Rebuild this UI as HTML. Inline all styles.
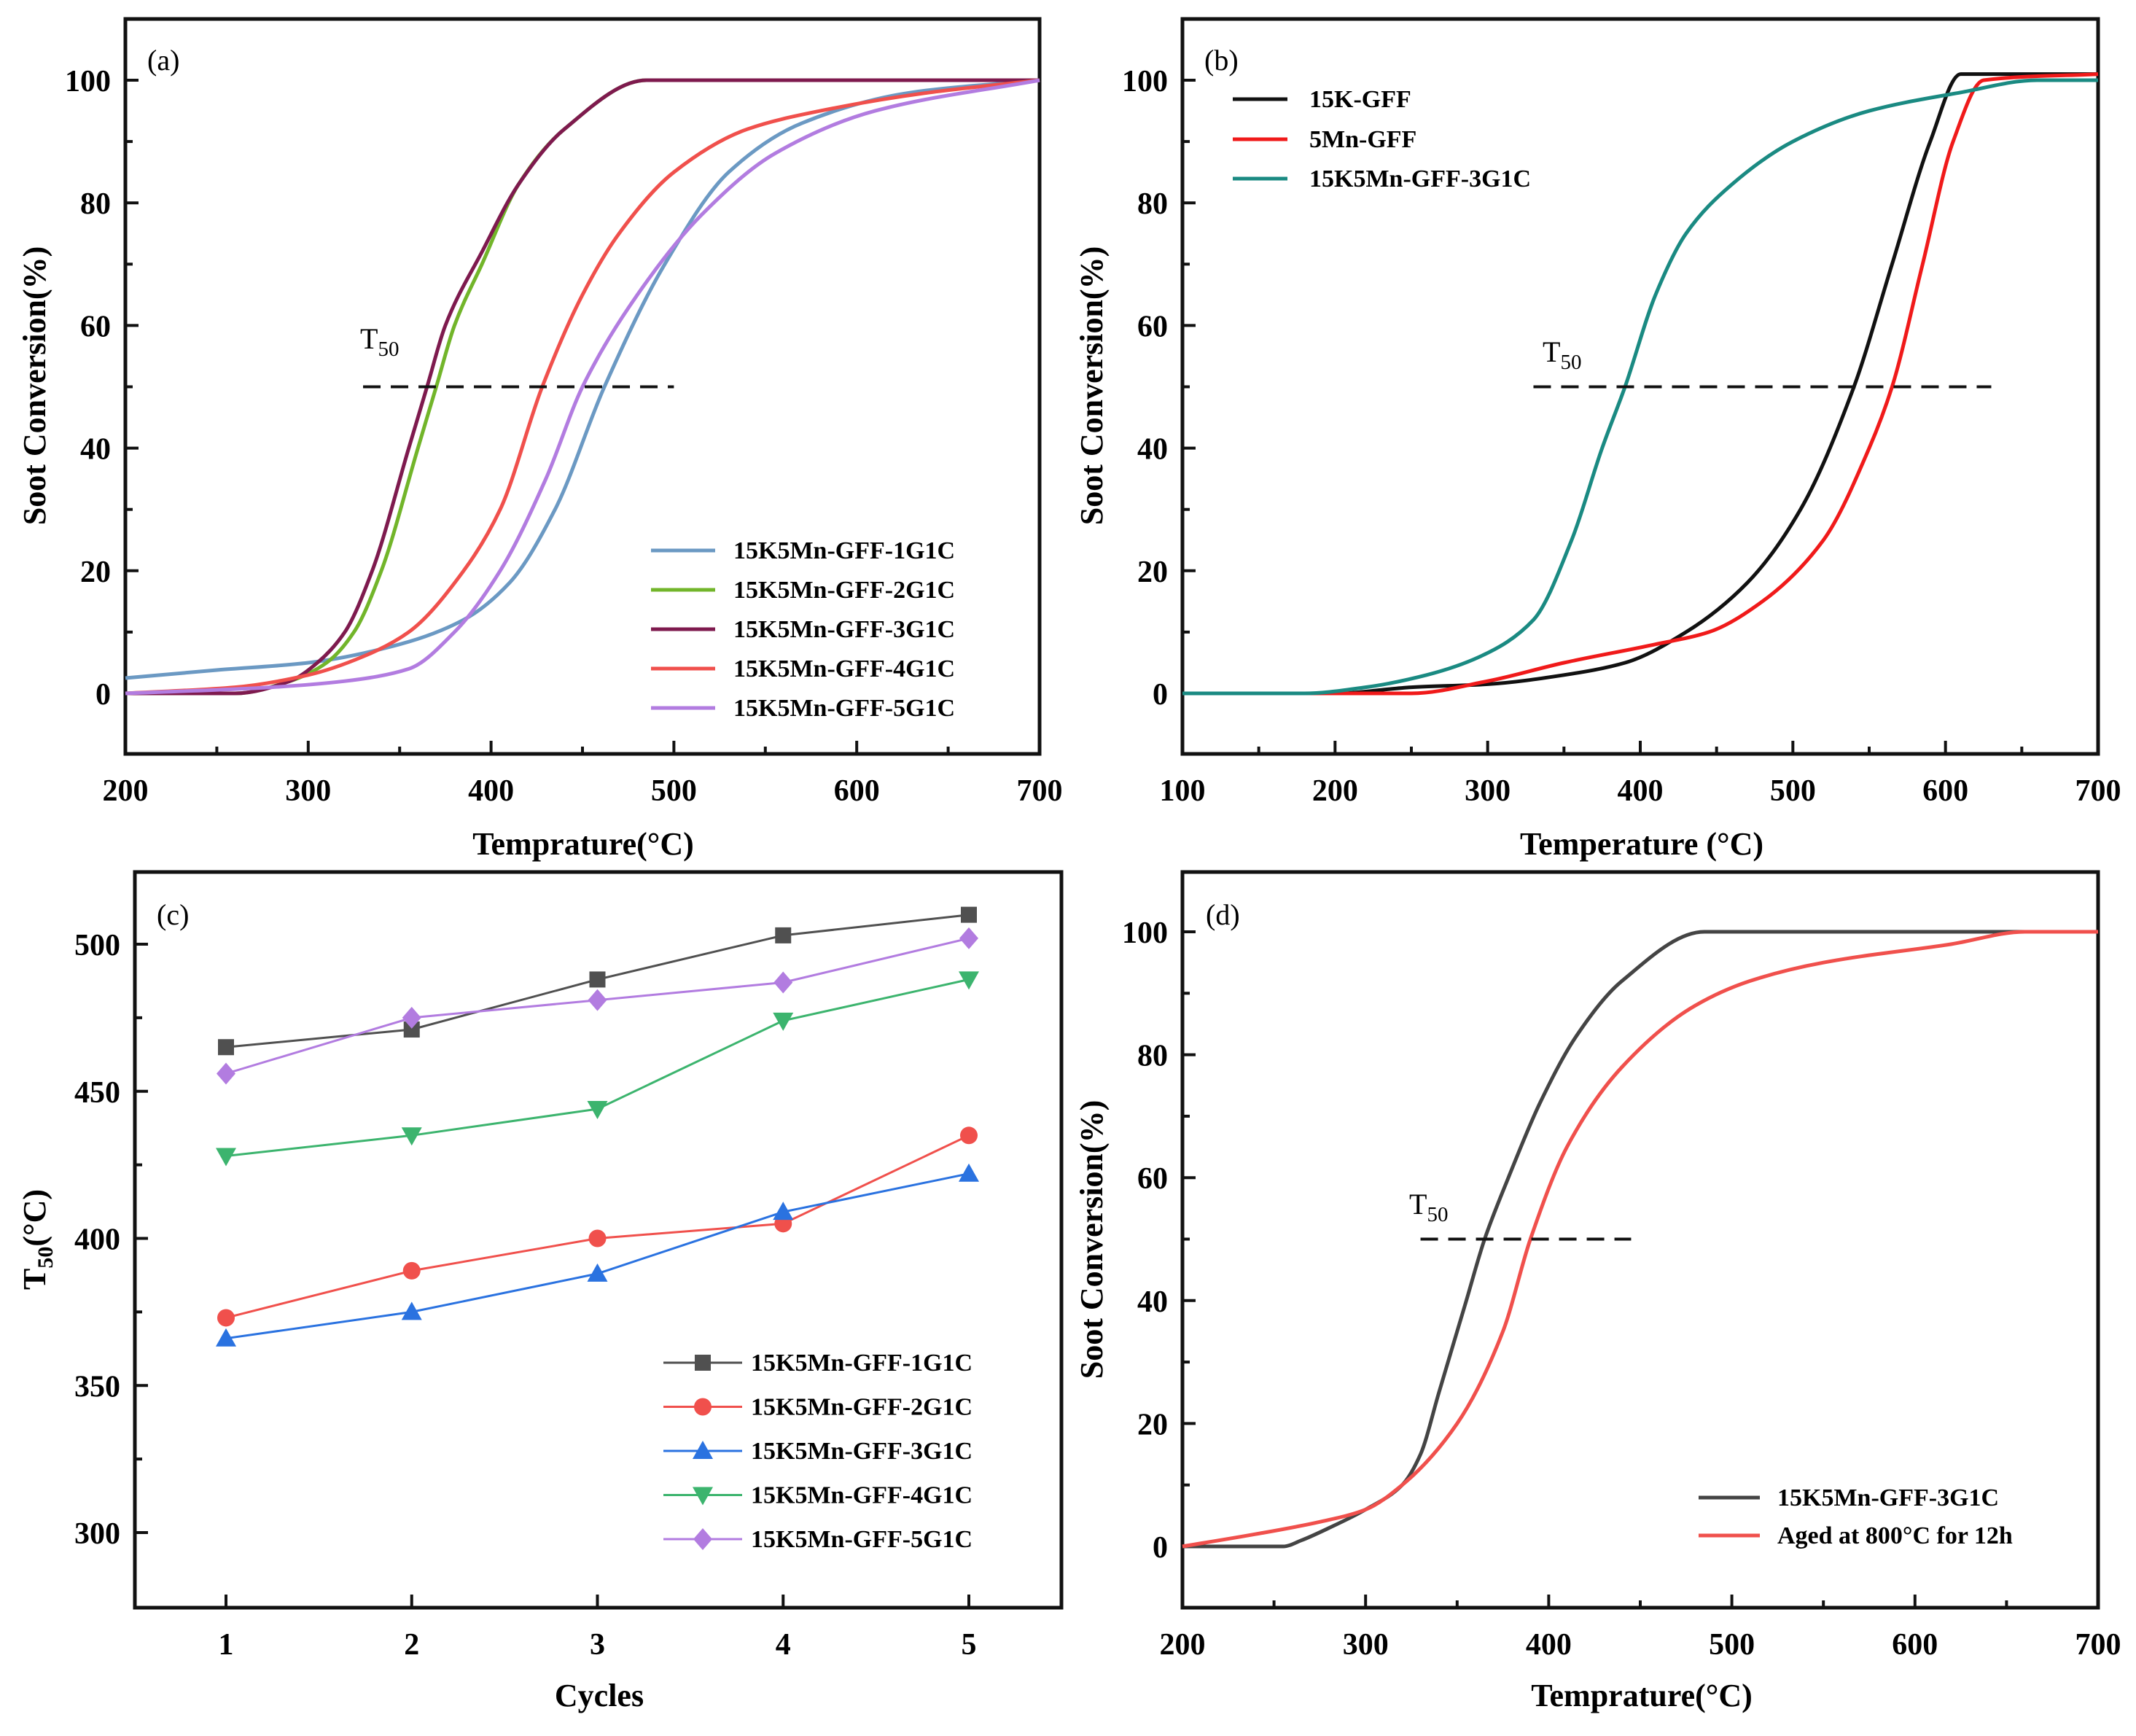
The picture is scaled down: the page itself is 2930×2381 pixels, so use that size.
<!DOCTYPE html>
<html><head><meta charset="utf-8">
<style>
html,body{margin:0;padding:0;background:#fff;}
svg{display:block;font-family:"Liberation Serif",serif;}
.tk{font-size:42px;font-weight:bold;}
.tt{font-size:44px;font-weight:bold;}
.lg{font-size:34px;font-weight:bold;}
</style></head>
<body>
<svg id="fig" width="2930" height="2381" viewBox="0 0 2930 2381" xmlns="http://www.w3.org/2000/svg"></svg>
<script>
// ---- Panel (a) data ----
const aT1 = [200,250,300,350,385,410,435,462,495,530,570,630,700];
const aY1 = [2.5,3.8,5,8,12,18,30,50,70,85,93,98,100];
const aT2 = [200,260,290,310,325,340,360,370,380,395,415,440,485,700];
const aY2 = [0,0,2,5,10,20,40,50,60,70,83,92,100,100];
const aT3 = [200,260,290,305,320,335,355,365,375,395,415,440,485,700];
const aY3 = [0,0,2,5,10,20,40,50,60,72,83,92,100,100];
const aT4 = [200,260,300,330,355,385,405,428,450,470,500,540,580,640,700];
const aY4 = [0,1,3,6,10,20,30,50,65,75,85,92,95,98,100];
const aT5 = [200,280,320,355,380,405,430,450,480,515,555,610,700];
const aY5 = [0,1,2,4,10,20,35,50,65,78,88,95,100];
// ---- Panel (b) data ----
const bT1 = [100,200,250,300,350,390,430,470,505,540,565,590,610,700];
const bY1 = [0,0,1,1.5,3,5,10,18,30,50,70,90,101,101];
const bT2 = [100,250,300,350,410,445,480,520,550,565,585,605,625,700];
const bY2 = [0,0,2,5,8,10,15,25,40,50,70,90,100,101];
const bT3 = [100,180,220,260,295,330,355,375,390,410,430,460,500,550,610,660,700];
const bY3 = [0,0,1,3,6,12,25,40,50,65,75,83,90,95,98,100,100];
// ---- Panel (c) data ----
const cCycles = [1,2,3,4,5];
const c1 = [465,471,488,503,510];
const c2 = [373,389,400,405,435];
const c3 = [366,375,388,409,422];
const c4 = [428,435,444,474,488];
const c5 = [456,475,481,487,502];
// ---- Panel (d) data ----
const dT1 = [200,255,265,280,300,320,330,340,355,365,378,395,415,440,485,700];
const dY1 = [0,0,1,3,6,10,15,25,40,50,60,72,83,92,100,100];
const dT2 = [200,240,275,300,320,350,375,390,410,440,480,510,550,620,660,700];
const dY2 = [0,2,4,6,10,20,35,50,65,78,88,92,95,98,100,100];
// ticks
const convTicks = [0,20,40,60,80,100];
const tTicksA = [200,300,400,500,600,700];
const tTicksB = [100,200,300,400,500,600,700];
const t50Ticks = [300,350,400,450,500];

const svg = document.getElementById('fig');
const NS = 'http://www.w3.org/2000/svg';
function mk(tag, attrs, parent){const e=document.createElementNS(NS,tag);for(const k in attrs)e.setAttribute(k,attrs[k]);(parent||svg).appendChild(e);return e;}
function lin(d0,d1,r0,r1){return v=>r0+(v-d0)/(d1-d0)*(r1-r0);}

function panel(name,box,xs,ys,xTicks,xMinor,yTicks,yMinor){
  const g=mk('g',{});
  
  
  const r=mk('rect',{x:box.l,y:box.t,width:box.r-box.l,height:box.b-box.t,fill:'none',stroke:'#111','stroke-width':5},g);
  
  
  xMinor.forEach(v=>mk('line',{x1:xs(v),x2:xs(v),y1:box.b,y2:box.b-10,stroke:'#111','stroke-width':4},g));
  xTicks.forEach(v=>{
    mk('line',{x1:xs(v),x2:xs(v),y1:box.b,y2:box.b-18,stroke:'#111','stroke-width':4},g);
    const t=mk('text',{x:xs(v),y:box.b+64,'text-anchor':'middle',class:'tk'},g);t.textContent=v;
    
    
  });
  yMinor.forEach(v=>mk('line',{x1:box.l,x2:box.l+10,y1:ys(v),y2:ys(v),stroke:'#111','stroke-width':4},g));
  yTicks.forEach(v=>{
    mk('line',{x1:box.l,x2:box.l+18,y1:ys(v),y2:ys(v),stroke:'#111','stroke-width':4},g);
    const t=mk('text',{x:box.l-20,y:ys(v)+15,'text-anchor':'end',class:'tk'},g);t.textContent=v;
    
    
  });
  return g;
}
// monotone cubic (Fritsch-Carlson) in pixel space; x strictly increasing
function monoPath(P){
  const n=P.length, dx=[], m=[], t=new Array(n);
  for(let i=0;i<n-1;i++){dx.push(P[i+1][0]-P[i][0]);m.push((P[i+1][1]-P[i][1])/dx[i]);}
  t[0]=m[0]; t[n-1]=m[n-2];
  for(let i=1;i<n-1;i++){
    if(m[i-1]*m[i]<=0) t[i]=0;
    else {const w1=2*dx[i]+dx[i-1],w2=dx[i]+2*dx[i-1];t[i]=(w1+w2)/(w1/m[i-1]+w2/m[i]);}
  }
  let d='M'+P[0][0].toFixed(1)+' '+P[0][1].toFixed(1);
  for(let i=0;i<n-1;i++){
    const h=dx[i]/3;
    d+=`C${(P[i][0]+h).toFixed(1)} ${(P[i][1]+t[i]*h).toFixed(1)} ${(P[i+1][0]-h).toFixed(1)} ${(P[i+1][1]-t[i+1]*h).toFixed(1)} ${P[i+1][0].toFixed(1)} ${P[i+1][1].toFixed(1)}`;
  }
  return d;
}
function curve(g,xs,ys,X,Y,color,name,w,straight){
  const P=X.map((x,i)=>[xs(x),ys(Y[i])]);
  const d=straight?P.map((p,i)=>(i?'L':'M')+p[0].toFixed(1)+' '+p[1].toFixed(1)).join(''):monoPath(P);
  const p=mk('path',{d:d,fill:'none',stroke:color,'stroke-width':w||5,'stroke-linejoin':'round'},g);
  
  
}
function text(g,x,y,s,cls,name,extra){const t=mk('text',Object.assign({x:x,y:y,class:cls},extra||{}),g);t.textContent=s;
  
  return t;}
function legendLine(g,x1,x2,y,color,label,tx){
  mk('line',{x1:x1,x2:x2,y1:y,y2:y,stroke:color,'stroke-width':5},g);
  text(g,tx,y+11,label,'lg','legend-entry');
}
function dashT50(g,xs,ys,x0,x1,lx,ly){
  const l=mk('line',{x1:xs(x0),x2:xs(x1),y1:ys(50),y2:ys(50),stroke:'#111','stroke-width':4,'stroke-dasharray':'24 14'},g);
  
  
  const t=mk('text',{x:lx,y:ly,style:'font-size:40px'},g);
  
  
  t.innerHTML='T<tspan dy="10" style="font-size:29px">50</tspan>';
}
function range(a,b,s){const r=[];for(let v=a;v<=b+1e-9;v+=s)r.push(v);return r;}

// ---------- (a) ----------
{
const box={l:172,r:1426,t:26,b:1034};
const xs=lin(200,700,172,1426), ys=lin(0,100,951,110);
const g=panel('panel-a',box,xs,ys,tTicksA,range(250,650,100),convTicks,range(10,90,20));
curve(g,xs,ys,aT1,aY1,'#6b99c3','line-1g1c');
curve(g,xs,ys,aT2,aY2,'#72b52a','line-2g1c');
curve(g,xs,ys,aT3,aY3,'#7e1a4e','line-3g1c');
curve(g,xs,ys,aT4,aY4,'#f0504c','line-4g1c');
curve(g,xs,ys,aT5,aY5,'#b27ce0','line-5g1c');
dashT50(g,xs,ys,330,500,494,478);
text(g,202,96,'(a)','','panel-label',{style:'font-size:40px'});
const labs=['15K5Mn-GFF-1G1C','15K5Mn-GFF-2G1C','15K5Mn-GFF-3G1C','15K5Mn-GFF-4G1C','15K5Mn-GFF-5G1C'];
const cols=['#6b99c3','#72b52a','#7e1a4e','#f0504c','#b27ce0'];
labs.forEach((s,i)=>legendLine(g,893,981,755+i*54,cols[i],s,1006));
text(g,800,1172,'Temprature(°C)','tt','x-axis-title',{'text-anchor':'middle'});
text(g,0,0,'Soot Conversion(%)','tt','y-axis-title',{'text-anchor':'middle',transform:'translate(62,529) rotate(-90)'});
}
// ---------- (b) ----------
{
const box={l:1622,r:2878,t:26,b:1034};
const xs=lin(100,700,1622,2878), ys=lin(0,100,951,110);
const g=panel('panel-b',box,xs,ys,tTicksB,range(150,650,100),convTicks,range(10,90,20));
curve(g,xs,ys,bT1,bY1,'#111111','line-15k-gff');
curve(g,xs,ys,bT2,bY2,'#f01a1a','line-5mn-gff');
curve(g,xs,ys,bT3,bY3,'#1a8a82','line-15k5mn-gff-3g1c');
dashT50(g,xs,ys,330,630,2116,496);
text(g,1652,96,'(b)','','panel-label',{style:'font-size:40px'});
legendLine(g,1691,1766,136,'#111111','15K-GFF',1796);
legendLine(g,1691,1766,191,'#f01a1a','5Mn-GFF',1796);
legendLine(g,1691,1766,245,'#1a8a82','15K5Mn-GFF-3G1C',1796);
text(g,2252,1172,'Temperature (°C)','tt','x-axis-title',{'text-anchor':'middle'});
text(g,0,0,'Soot Conversion(%)','tt','y-axis-title',{'text-anchor':'middle',transform:'translate(1512,529) rotate(-90)'});
}
// ---------- (c) ----------
{
const box={l:185,r:1456,t:1196,b:2205};
const xs=lin(1,5,310,1329), ys=lin(300,500,2102,1295);
const g=panel('panel-c',box,xs,ys,cCycles,[],t50Ticks,range(325,525,50).filter(v=>v<520));
const sets=[[c1,'#505050','sq','15K5Mn-GFF-1G1C'],[c2,'#f0504c','ci','15K5Mn-GFF-2G1C'],[c3,'#2a72e0','tu','15K5Mn-GFF-3G1C'],[c4,'#3cb46e','td','15K5Mn-GFF-4G1C'],[c5,'#b27ce0','di','15K5Mn-GFF-5G1C']];
function marker(x,y,type,color,name){
  let e;
  if(type==='sq')e=mk('rect',{x:x-11,y:y-11,width:22,height:22,fill:color},g);
  else if(type==='ci')e=mk('circle',{cx:x,cy:y,r:12,fill:color},g);
  else if(type==='tu')e=mk('polygon',{points:`${x},${y-14} ${x-14},${y+11} ${x+14},${y+11}`,fill:color},g);
  else if(type==='td')e=mk('polygon',{points:`${x},${y+14} ${x-14},${y-11} ${x+14},${y-11}`,fill:color},g);
  else e=mk('polygon',{points:`${x},${y-15} ${x+13},${y} ${x},${y+15} ${x-13},${y}`,fill:color},g);
  
  
}
sets.forEach(([vals,col,m,lab],k)=>{
  curve(g,xs,ys,cCycles,vals,col,'line-'+(k+1)+'g1c',3,true);
  vals.forEach((v,i)=>marker(xs(cCycles[i]),ys(v),m,col,'point-'+(k+1)+'g1c'));
  const y=1869+k*60.5;
  mk('line',{x1:910,x2:1018,y1:y,y2:y,stroke:col,'stroke-width':3},g);
  marker(964,y,m,col,'legend-marker');
  text(g,1030,y+11,lab,'lg','legend-entry');
});
text(g,215,1268,'(c)','','panel-label',{style:'font-size:40px'});
text(g,822,2340,'Cycles','tt','x-axis-title',{'text-anchor':'middle'});
const yt=mk('text',{class:'tt','text-anchor':'middle',transform:'translate(62,1700) rotate(-90)'});


yt.innerHTML='T<tspan dy="10" style="font-size:30px">50</tspan><tspan dy="-10">(°C)</tspan>';
}
// ---------- (d) ----------
{
const box={l:1622,r:2878,t:1196,b:2205};
const xs=lin(200,700,1622,2878), ys=lin(0,100,2121,1278);
const g=panel('panel-d',box,xs,ys,tTicksA,range(250,650,100),convTicks,range(10,90,20));
curve(g,xs,ys,dT1,dY1,'#444444','line-fresh');
curve(g,xs,ys,dT2,dY2,'#f0504c','line-aged');
dashT50(g,xs,ys,330,445,1933,1665);
text(g,1654,1268,'(d)','','panel-label',{style:'font-size:40px'});
legendLine(g,2330,2414,2054,'#444444','15K5Mn-GFF-3G1C',2438);
legendLine(g,2330,2414,2106,'#f0504c','Aged at 800°C for 12h',2438);
text(g,2252,2340,'Temprature(°C)','tt','x-axis-title',{'text-anchor':'middle'});
text(g,0,0,'Soot Conversion(%)','tt','y-axis-title',{'text-anchor':'middle',transform:'translate(1512,1700) rotate(-90)'});
}
</script>
</body></html>
